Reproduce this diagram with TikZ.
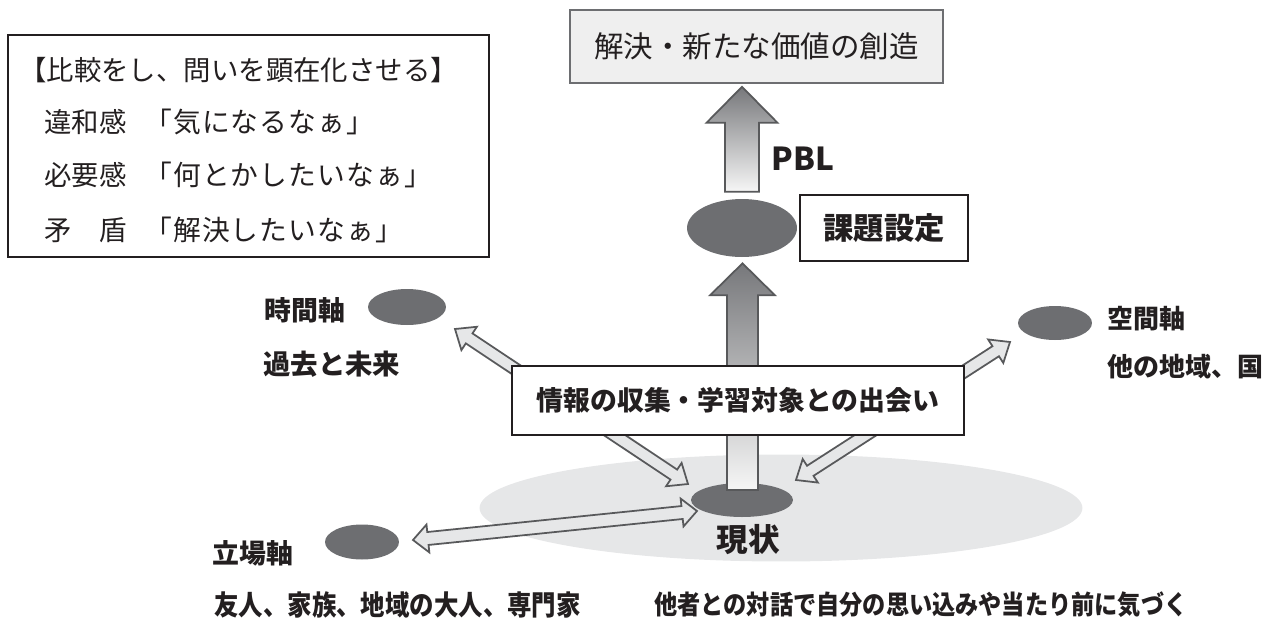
\documentclass[tikz,border=0pt]{standalone}
\usepackage{fontspec}
\usetikzlibrary{calc,shapes.geometric}
\newfontfamily\jp{Noto Sans CJK JP}
\newfontfamily\jpn{Noto Sans CJK JP}[FakeStretch=0.88]
\newfontfamily\jpls{Noto Sans CJK JP}[LetterSpace=4]
\newcommand\fsz[1]{\fontsize{#1}{#1}\selectfont}
\definecolor{ellfill}{HTML}{6D6E71}
\definecolor{lightfill}{HTML}{E6E7E8}
\definecolor{aline}{HTML}{58595B}
\definecolor{goalfill}{HTML}{EFEFEF}
\definecolor{shadetop}{HTML}{77787B}
\definecolor{shadebot}{HTML}{F6F6F6}
\definecolor{txt}{HTML}{231F20}
% double-headed block arrow: style, end1, end2, half shaft, half head, head length
\newcommand\dblarrow[6]{%
  \coordinate (dP) at ($(#2)!#6!(#3)$);
  \coordinate (dQ) at ($(#3)!#6!(#2)$);
  \path[#1] (#2) -- ($(dP)!#5!90:(#3)$) -- ($(dP)!#4!90:(#3)$)
    -- ($(dQ)!#4!-90:(#2)$) -- ($(dQ)!#5!-90:(#2)$) -- (#3)
    -- ($(dQ)!#5!90:(#2)$) -- ($(dQ)!#4!90:(#2)$)
    -- ($(dP)!#4!-90:(#3)$) -- ($(dP)!#5!-90:(#3)$) -- cycle;}
% single block arrow: style, tail, tip, half shaft, half head, head length
\newcommand\sglarrow[6]{%
  \coordinate (sP) at ($(#3)!#6!(#2)$);
  \path[#1] ($(#2)!#4!90:(#3)$) -- ($(sP)!#4!90:(#3)$) -- ($(sP)!#5!90:(#3)$)
    -- (#3) -- ($(sP)!#5!-90:(#3)$) -- ($(sP)!#4!-90:(#3)$)
    -- ($(#2)!#4!-90:(#3)$) -- cycle;}
\tikzset{
  dot/.style={ellipse, fill=ellfill, inner sep=0pt},
  lightarrow/.style={draw=aline, fill=lightfill, line width=1pt, line join=miter},
  shadedarrow/.style={draw=aline, line width=1pt, line join=miter, top color=shadetop, bottom color=shadebot},
  framebox/.style={draw=txt, fill=white, line width=0.9pt, inner sep=0pt},
  boldlabel/.style={text=txt, inner sep=0pt, font=\jp\bfseries\fsz{15.3}},
  boxtext/.style={text=txt, inner sep=0pt, anchor=west, font=\jp\fsz{15.6}},
}
\begin{document}
\begin{tikzpicture}[x=0.02cm,y=-0.02cm]
\useasboundingbox (0,0) rectangle (1276,623);

% field of the present state
\node[ellipse, fill=lightfill, inner sep=0pt, minimum width=12.06cm, minimum height=2.14cm] (field) at (781,508) {};

% diagonal double arrows
\coordinate (a1) at (455,329); \coordinate (b1) at (688,484);
\coordinate (a2) at (1010,342); \coordinate (b2) at (796,480);
\coordinate (a3) at (413,540); \coordinate (b3) at (697,511);
\dblarrow{lightarrow}{a1}{b1}{0.12cm}{0.28cm}{0.34cm}
\dblarrow{lightarrow}{a2}{b2}{0.12cm}{0.28cm}{0.34cm}
\dblarrow{lightarrow}{a3}{b3}{0.13cm}{0.28cm}{0.30cm}

% ellipses
\node[dot, minimum width=2.04cm, minimum height=0.68cm] (genjo) at (742,500) {};
\node[dot, minimum width=2.2cm, minimum height=1.16cm] (kadai) at (742,228) {};
\node[dot, minimum width=1.56cm, minimum height=0.72cm] (jikan) at (407,307) {};
\node[dot, minimum width=1.48cm, minimum height=0.68cm] (kukan) at (1055,323) {};
\node[dot, minimum width=1.48cm, minimum height=0.70cm] (tachiba) at (362,542) {};

% top goal box
\node[draw=ellfill, fill=goalfill, line width=0.9pt, minimum width=7.46cm, minimum height=1.46cm, inner sep=0pt,
      text=txt, font=\jp\fsz{16.8}] (goal) at (756.5,46.5) {解決・新たな価値の創造};

% vertical arrows
\coordinate (vtail) at ($(genjo.center)+(0.5,-10)$);
\coordinate (vtip) at ($(kadai.south)+(0.5,6)$);
\sglarrow{shadedarrow}{vtail}{vtip}{0.31cm}{0.65cm}{0.64cm}
\coordinate (ptail) at ($(kadai.north)+(0,-7)$);
\coordinate (ptip) at ($(goal.south)+(-14.5,3)$);
\sglarrow{shadedarrow}{ptail}{ptip}{0.34cm}{0.71cm}{0.72cm}

% information box
\node[framebox, minimum width=9.04cm, minimum height=1.38cm, font=\jp\bfseries\fsz{15.3}, text=txt] (info) at (738,400.5) {情報の収集・学習対象との出会い};

% task box
\node[framebox, minimum width=3.36cm, minimum height=1.32cm, font=\jp\bfseries\fsz{17.3}, text=txt] (task) at (884,228) {課題設定};

% PBL
\node[text=txt, inner sep=0pt, font=\jp\bfseries\fsz{18}] (pbl) at (803,158.5) {PBL};

% labels
\node[boldlabel, font=\jp\bfseries\fsz{18}] (genjolabel) at (748,540) {現状};
\node[boldlabel, anchor=west] (jikanlabel) at (264,310) {時間軸};
\node[boldlabel, anchor=west, font=\jp\bfseries\fsz{15.6}] (jikansub) at (263,364) {過去と未来};
\node[boldlabel, anchor=west, font=\jp\bfseries\fsz{14.8}] (kukanlabel) at (1107,319) {空間軸};
\node[boldlabel, anchor=west, font=\jp\bfseries\fsz{14.8}] (kukansub) at (1107,367) {他の地域、国};
\node[boldlabel, anchor=west] (tachibalabel) at (212,553) {立場軸};
\node[boldlabel, anchor=west, font=\jpn\bfseries\fsz{15.8}] (bottom1) at (214,605) {友人、家族、地域の大人、専門家};
\node[boldlabel, anchor=west, font=\jpn\bfseries\fsz{15}] (bottom2) at (654,605) {他者との対話で自分の思い込みや当たり前に気づく};

% left box
\node[draw=txt, line width=0.9pt, minimum width=9.62cm, minimum height=4.44cm, inner sep=0pt] (cmpbox) at (248.5,146) {};
\node[boxtext] (l1) at (19,70) {【比較をし、問いを顕在化させる】};
\node[boxtext] (l2a) at (44,122) {違和感};
\node[boxtext, font=\jpls\fsz{15.8}] (l2b) at (144,122) {「気になるなぁ」};
\node[boxtext] (l3a) at (44,175) {必要感};
\node[boxtext, font=\jpls\fsz{15.8}] (l3b) at (144,175) {「何とかしたいなぁ」};
\node[boxtext] (l4a) at (44,230) {矛\hspace{1em}盾};
\node[boxtext, font=\jpls\fsz{15.8}] (l4b) at (144,230) {「解決したいなぁ」};
\end{tikzpicture}
\end{document}
